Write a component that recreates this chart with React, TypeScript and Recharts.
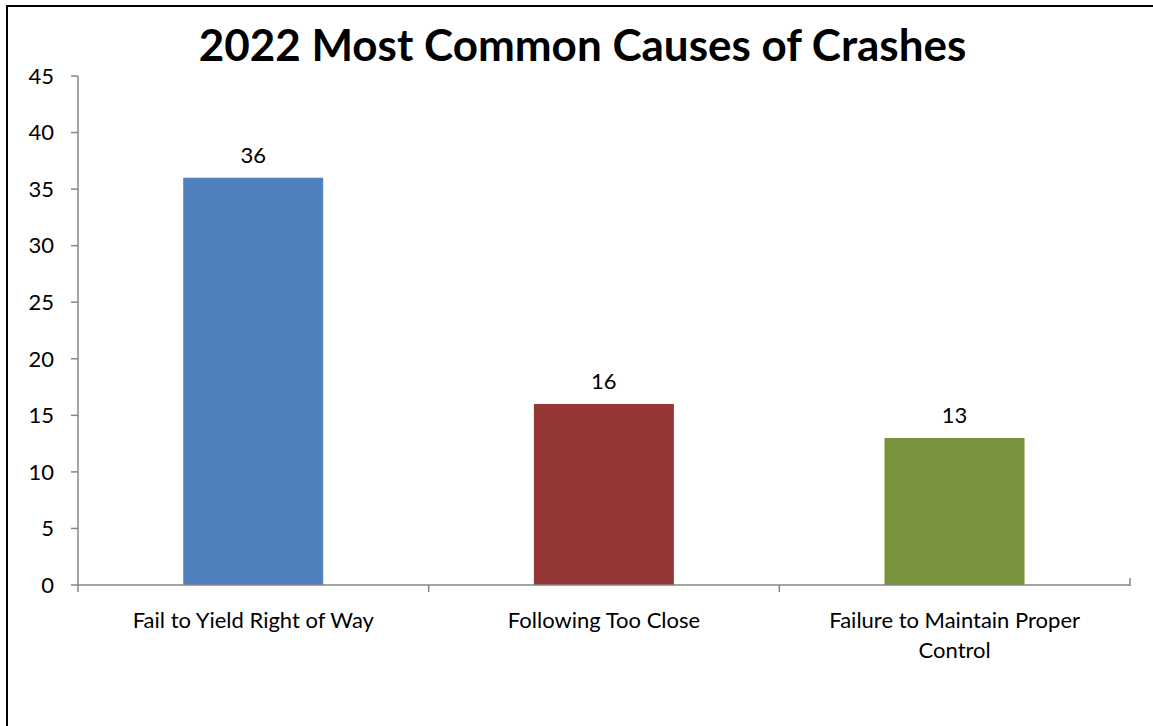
import { Bar, BarChart, Cell, LabelList, XAxis, YAxis } from 'recharts'

const causes = ['Fail to Yield Right of Way', 'Following Too Close', 'Failure to Maintain Proper Control']
const crashCounts = [36, 16, 13]
const barColors = ['#4F81BD', '#953735', '#77933C']
const yTicks = [0, 5, 10, 15, 20, 25, 30, 35, 40, 45]

const rows = causes.map((cause, i) => ({ cause, count: crashCounts[i] }))

const FONT = 'Lato, "Noto Sans", sans-serif'
const AXIS_GREY = '#868686'
const TICK_LEN = 7
const LABEL_SIZE = 22
const WRAP_WIDTH = 300

let ctx: CanvasRenderingContext2D | null = null
function wrapWords(text: string, maxWidth: number): string[] {
  if (!ctx) ctx = document.createElement('canvas').getContext('2d')
  if (!ctx) return [text]
  ctx.font = `${LABEL_SIZE}px ${FONT}`
  const lines: string[] = []
  let cur = ''
  for (const w of text.split(' ')) {
    const next = cur ? cur + ' ' + w : w
    if (cur && ctx.measureText(next).width > maxWidth) {
      lines.push(cur)
      cur = w
    } else {
      cur = next
    }
  }
  if (cur) lines.push(cur)
  return lines
}

// category label plus tick marks on the category boundaries (Excel style)
function CauseTick(props: any) {
  const { x, y, payload, index, width, visibleTicksCount } = props
  const n = visibleTicksCount || causes.length
  const band = width / n
  const last = index === n - 1
  const lines = wrapWords(String(payload.value), WRAP_WIDTH)
  return (
    <g>
      <line x1={x - band / 2} x2={x - band / 2} y1={y} y2={y + TICK_LEN} stroke={AXIS_GREY} strokeWidth={1.5} />
      {last && (
        <line x1={x + band / 2} x2={x + band / 2} y1={y - TICK_LEN} y2={y + 1} stroke={AXIS_GREY} strokeWidth={1.5} />
      )}
      <text x={x} y={y + 43} textAnchor="middle" fill="#000" fontSize={LABEL_SIZE} fontFamily={FONT}>
        {lines.map((l, i) => (
          <tspan key={i} x={x} dy={i === 0 ? 0 : 30}>
            {l}
          </tspan>
        ))}
      </text>
    </g>
  )
}

export default function App() {
  return (
    <div
      style={{
        position: 'absolute',
        left: 6,
        top: 5,
        width: 1160,
        height: 740,
        borderLeft: '2px solid #000',
        borderTop: '2px solid #000',
        background: '#fff',
      }}
    >
      <div style={{ position: 'absolute', left: -8, top: -7, width: 1153, height: 726 }}>
        <div
          style={{
            position: 'absolute',
            left: 0,
            top: 18,
            width: 1165,
            textAlign: 'center',
            fontFamily: FONT,
            fontWeight: 700,
            fontSize: 44,
            color: '#000',
          }}
        >
          2022 Most Common Causes of Crashes
        </div>
        <BarChart
          width={1153}
          height={726}
          data={rows}
          margin={{ top: 76, right: 23, bottom: 0, left: 18 }}
          barCategoryGap="30%"
        >
          <XAxis
            dataKey="cause"
            type="category"
            height={141}
            axisLine={{ stroke: AXIS_GREY, strokeWidth: 1.5 }}
            tickLine={false}
            tickSize={0}
            tickMargin={0}
            interval={0}
            tick={<CauseTick />}
          />
          <YAxis
            domain={[0, 45]}
            ticks={yTicks}
            width={60}
            tickSize={TICK_LEN}
            tickMargin={17}
            axisLine={{ stroke: AXIS_GREY, strokeWidth: 1.5 }}
            tickLine={{ stroke: AXIS_GREY, strokeWidth: 1.5 }}
            tick={{ fill: '#000', fontSize: LABEL_SIZE, fontFamily: FONT }}
          />
          <Bar dataKey="count" isAnimationActive={false}>
            {rows.map((r, i) => (
              <Cell key={r.cause} fill={barColors[i]} />
            ))}
            <LabelList dataKey="count" position="top" offset={15} fill="#000" fontSize={LABEL_SIZE} fontFamily={FONT} />
          </Bar>
        </BarChart>
      </div>
    </div>
  )
}
